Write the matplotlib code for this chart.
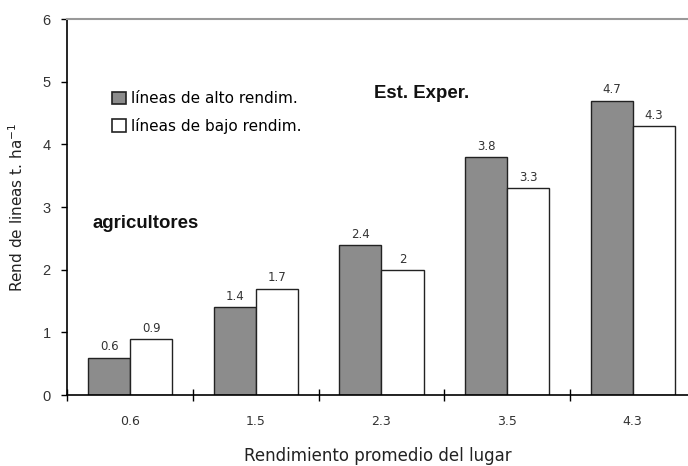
import matplotlib.pyplot as plt
import numpy as np
from matplotlib.patches import Patch

categories = ['0.6', '1.5', '2.3', '3.5', '4.3']
alto = [0.6, 1.4, 2.4, 3.8, 4.7]
bajo = [0.9, 1.7, 2.0, 3.3, 4.3]
alto_labels = ['0.6', '1.4', '2.4', '3.8', '4.7']
bajo_labels = ['0.9', '1.7', '2', '3.3', '4.3']

fig = plt.figure(figsize=(6.88, 4.66), dpi=100)
ax = fig.add_axes([0.098, 0.152, 0.902, 0.807])

x = np.arange(len(categories))
w = 0.335
ax.bar(x - w/2, alto, w, color='#8c8c8c', edgecolor='#222222', linewidth=1.0)
ax.bar(x + w/2, bajo, w, color='white', edgecolor='#222222', linewidth=1.0)

for xi, v, s in zip(x - w/2, alto, alto_labels):
    ax.text(xi, v + 0.17, s, ha='center', va='center', fontsize=8.5, color='#333333')
for xi, v, s in zip(x + w/2, bajo, bajo_labels):
    ax.text(xi, v + 0.17, s, ha='center', va='center', fontsize=8.5, color='#333333')

ax.set_xlim(-0.5, 4.44)
ax.set_ylim(0, 6)
ax.set_yticks(range(7))
ax.tick_params(axis='y', direction='out', length=4, width=1, labelsize=10.5, pad=8,
               labelcolor='#333333')
for t in ax.get_yticklabels():
    t.set_family('Liberation Sans')

# group ticks between categories, labels centered
ax.set_xticks(np.arange(-0.5, 4.0, 1.0))
ax.set_xticklabels([])
ax.set_xticks(x, minor=True)
ax.set_xticklabels(categories, minor=True, fontsize=9, color='#333333')
ax.tick_params(axis='x', which='major', direction='inout', length=8, width=1)
ax.tick_params(axis='x', which='minor', length=0, pad=14)

ax.spines['right'].set_visible(False)
ax.spines['top'].set_color('#999999')
ax.spines['top'].set_linewidth(1.5)
ax.spines['left'].set_linewidth(1.2)
ax.spines['bottom'].set_linewidth(1.2)

ax.set_ylabel('Rend de lineas t. ha$^{-1}$', fontsize=11, labelpad=12, color='#222222')
ax.set_xlabel('Rendimiento promedio del lugar', fontsize=12, labelpad=14, color='#222222')

ax.text(0.124, 2.74, 'agricultores', fontsize=13.4, fontweight='bold', ha='center',
        va='center', family='Liberation Sans', color='#111111')
ax.text(2.32, 4.82, 'Est. Exper.', fontsize=13.4, fontweight='bold', ha='center',
        va='center', family='Liberation Sans', color='#111111')

handles = [Patch(facecolor='#8c8c8c', edgecolor='#222222', linewidth=1.2),
           Patch(facecolor='white', edgecolor='#222222', linewidth=1.2)]
ax.legend(handles, ['líneas de alto rendim.', 'líneas de bajo rendim.'],
          loc='upper left', bbox_to_anchor=(0.05, 0.845), frameon=False,
          handlelength=0.9, handleheight=0.9, handletextpad=0.3,
          labelspacing=0.75, fontsize=11)

plt.savefig('out.png', dpi=100)
